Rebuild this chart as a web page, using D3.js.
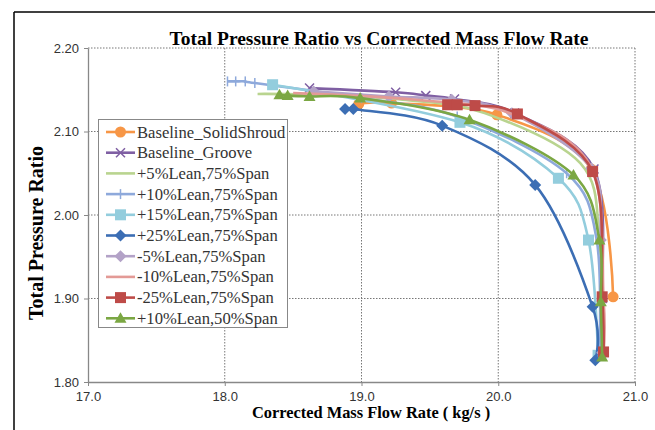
<!DOCTYPE html>
<html><head><meta charset="utf-8">
<script src="https://cdn.jsdelivr.net/npm/d3@7/dist/d3.min.js"></script>
<style>body{margin:0;background:#fff}svg{display:block}</style>
</head><body><svg id="c" width="655" height="430"></svg>
<script>
const seriesNames = ["Baseline_SolidShroud","Baseline_Groove","+5%Lean,75%Span","+10%Lean,75%Span","+15%Lean,75%Span","+25%Lean,75%Span","-5%Lean,75%Span","-10%Lean,75%Span","-25%Lean,75%Span","+10%Lean,50%Span"];
const xTicks = [17.0,18.0,19.0,20.0,21.0];
const yTicks = [1.80,1.90,2.00,2.10,2.20];

const solidX = [18.98,19.22,19.99,20.68,20.84];
const solidY = [2.133,2.134,2.120,2.055,1.902];
const grooveX = [18.62,19.25,19.47,19.68,20.12,20.70,20.76,20.75];
const grooveY = [2.152,2.147,2.143,2.139,2.122,2.055,1.900,1.835];
const p5X = [18.24,18.62,19.30,19.90,20.60,20.74,20.75];
const p5Y = [2.145,2.144,2.138,2.122,2.062,1.970,1.835];
const p10X = [18.02,18.08,18.15,18.22,19.00,19.70,20.50,20.72,20.74];
const p10Y = [2.160,2.160,2.160,2.158,2.140,2.118,2.050,1.970,1.830];
const p15X = [18.35,19.72,20.44,20.66,20.73];
const p15Y = [2.156,2.111,2.044,1.970,1.832];
const p25X = [18.88,18.94,19.59,20.27,20.69,20.71];
const p25Y = [2.127,2.127,2.107,2.036,1.890,1.826];
const m5X = [18.65,19.20,19.66,20.10,20.68,20.75,20.76];
const m5Y = [2.148,2.142,2.138,2.122,2.056,1.970,1.835];
const m10X = [18.50,19.40,20.10,20.68,20.77,20.77];
const m10Y = [2.146,2.138,2.121,2.057,1.900,1.835];
const m25X = [19.63,19.70,19.83,20.14,20.69,20.76,20.77];
const m25Y = [2.132,2.132,2.131,2.121,2.052,1.902,1.836];
const p1050X = [18.40,18.46,18.62,18.99,19.79,20.55,20.74,20.75,20.76];
const p1050Y = [2.144,2.143,2.142,2.140,2.114,2.048,1.970,1.896,1.830];

const colors = ["#F79646","#7F5FA3","#B9D48F","#8EA9DB","#93CDDD","#3C6EB4","#B3A2C7","#E39A96","#BE4B48","#7BA743"];
const markers = ["circle","x","none","plus","square","diamond","diamond","none","square","triangle"];
const xs = [solidX,grooveX,p5X,p10X,p15X,p25X,m5X,m10X,m25X,p1050X];
const ys = [solidY,grooveY,p5Y,p10Y,p15Y,p25Y,m5Y,m10Y,m25Y,p1050Y];

const svg = d3.select("#c");
const x = d3.scaleLinear().domain([17,21]).range([88,635]);
const y = d3.scaleLinear().domain([1.8,2.2]).range([382,48]);

// frame
svg.append("line").attr("x1",14).attr("x2",14).attr("y1",12).attr("y2",430).attr("stroke","#000").attr("stroke-width",1.5);
svg.append("line").attr("x1",14).attr("x2",655).attr("y1",12).attr("y2",12).attr("stroke","#000").attr("stroke-width",1.5);

// grid
const g = svg.append("g");
xTicks.slice(1).forEach(t=>g.append("line").attr("x1",x(t)).attr("x2",x(t)).attr("y1",y(2.2)).attr("y2",y(1.8)).attr("stroke","#777").attr("stroke-dasharray","1.5,1.5").attr("stroke-width",1));
yTicks.slice(1).forEach(t=>g.append("line").attr("x1",x(17)).attr("x2",x(21)).attr("y1",y(t)).attr("y2",y(t)).attr("stroke","#777").attr("stroke-dasharray","1.5,1.5").attr("stroke-width",1));

// axes
const xa = svg.append("g").attr("transform",`translate(0,${y(1.8)})`).call(d3.axisBottom(x).tickValues(xTicks).tickFormat(d3.format(".1f")).tickSizeOuter(0).tickSizeInner(4));
const ya = svg.append("g").attr("transform",`translate(${x(17)},0)`).call(d3.axisLeft(y).tickValues(yTicks).tickFormat(d3.format(".2f")).tickSizeOuter(0).tickSizeInner(4));
[xa,ya].forEach(a=>{a.select(".domain").attr("stroke","#888").attr("stroke-width",1.3);a.selectAll(".tick line").attr("stroke","#888");a.selectAll("text").attr("font-family","Liberation Sans, Arial").attr("font-size",13).attr("fill","#333");});
xa.selectAll("text").attr("dy","0.95em");
ya.selectAll("text").attr("dx","-2");

function marker(sel, type, color, s){
  if(type==="circle") sel.append("circle").attr("r",s*0.55).attr("fill",color);
  else if(type==="square") sel.append("rect").attr("x",-s*0.55).attr("y",-s*0.55).attr("width",s*1.1).attr("height",s*1.1).attr("fill",color);
  else if(type==="diamond") sel.append("path").attr("d",`M0,${-s*0.6}L${s*0.6},0L0,${s*0.6}L${-s*0.6},0Z`).attr("fill",color);
  else if(type==="triangle") sel.append("path").attr("d",`M0,${-s*0.6}L${s*0.6},${s*0.45}L${-s*0.6},${s*0.45}Z`).attr("fill",color);
  else if(type==="x") sel.append("path").attr("d",`M${-s*0.45},${-s*0.45}L${s*0.45},${s*0.45}M${-s*0.45},${s*0.45}L${s*0.45},${-s*0.45}`).attr("stroke",color).attr("stroke-width",1.5);
  else if(type==="plus") sel.append("path").attr("d",`M0,${-s*0.5}L0,${s*0.5}`).attr("stroke",color).attr("stroke-width",1.5);
}

const line = d3.line().x(d=>x(d[0])).y(d=>y(d[1])).curve(d3.curveCardinal.tension(0));
const plot = svg.append("g");
seriesNames.forEach((n,i)=>{
  const pts = xs[i].map((v,j)=>[v,ys[i][j]]);
  plot.append("path").attr("d",line(pts)).attr("fill","none").attr("stroke",colors[i]).attr("stroke-width",2.6);
  if(markers[i]!=="none") pts.forEach(p=>{marker(plot.append("g").attr("transform",`translate(${x(p[0])},${y(p[1])})`),markers[i],colors[i],10);});
});

// legend
const lg = svg.append("g");
lg.append("rect").attr("x",98.5).attr("y",119.5).attr("width",189).attr("height",208).attr("fill","#fff").attr("stroke","#888");
seriesNames.forEach((n,i)=>{
  const yy = 132 + i*20.7;
  lg.append("line").attr("x1",106).attr("x2",135).attr("y1",yy).attr("y2",yy).attr("stroke",colors[i]).attr("stroke-width",2.6);
  if(markers[i]!=="none") marker(lg.append("g").attr("transform",`translate(120.5,${yy})`),markers[i],colors[i],10);
  lg.append("text").attr("x",137).attr("y",yy+5.5).attr("font-family","Liberation Serif, Times New Roman").attr("font-size",16.6).attr("fill","#333").text(n);
});

// titles
svg.append("text").attr("x",379).attr("y",45).attr("text-anchor","middle").attr("font-family","Liberation Serif, Times New Roman").attr("font-weight","bold").attr("font-size",19.5).text("Total Pressure Ratio vs Corrected Mass Flow Rate");
svg.append("text").attr("x",371).attr("y",418).attr("text-anchor","middle").attr("font-family","Liberation Serif, Times New Roman").attr("font-weight","bold").attr("font-size",16.4).text("Corrected Mass Flow Rate ( kg/s )");
svg.append("text").attr("transform","translate(43,233) rotate(-90)").attr("text-anchor","middle").attr("font-family","Liberation Serif, Times New Roman").attr("font-weight","bold").attr("font-size",20).text("Total Pressure Ratio");
</script></body></html>
